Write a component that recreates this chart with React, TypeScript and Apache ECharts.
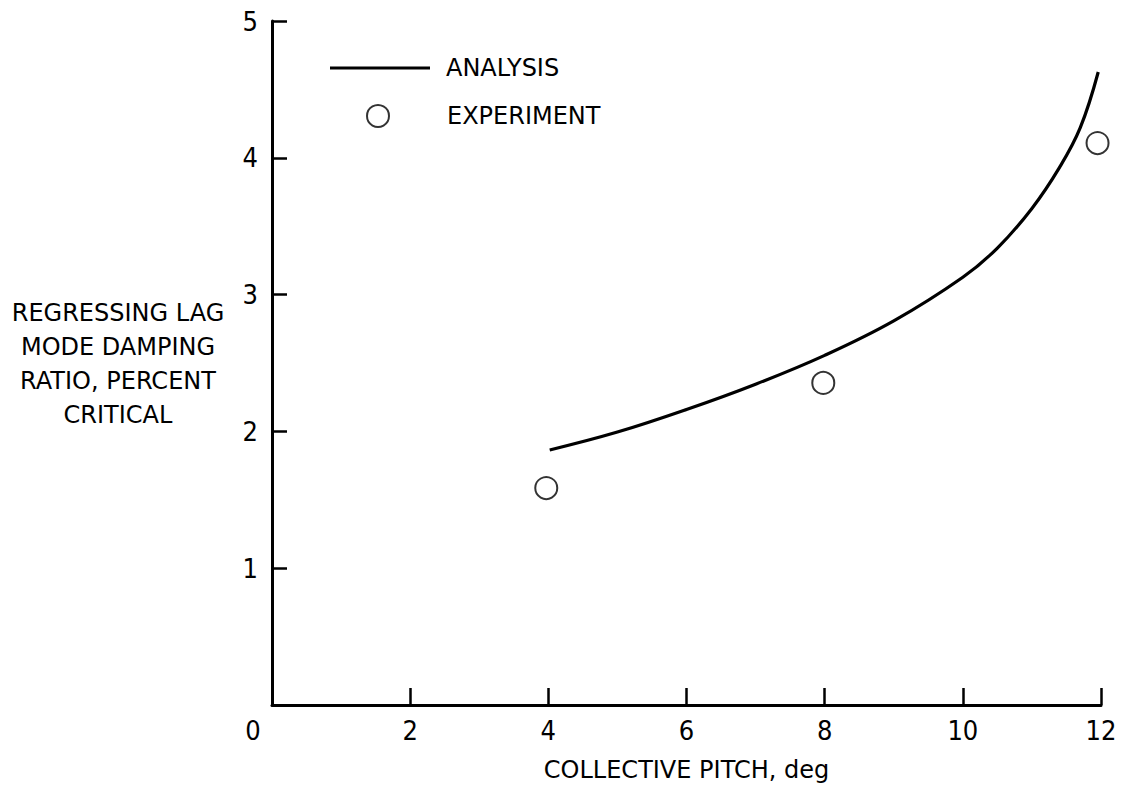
import React, { useEffect, useRef } from "react";
import * as echarts from "echarts";

const xTicks = [0, 2, 4, 6, 8, 10, 12];
const yTicks = [0, 1, 2, 3, 4, 5];

const analysisX = [4.02, 5.0, 6.0, 7.0, 8.0, 9.0, 10.0, 10.5, 11.0, 11.4, 11.7, 11.96];
const analysisY = [1.864, 1.995, 2.16, 2.345, 2.556, 2.808, 3.127, 3.34, 3.63, 3.93, 4.22, 4.627];

const experimentX = [3.97, 7.98, 11.95];
const experimentY = [1.586, 2.354, 4.108];

const yTitleLines = ["REGRESSING LAG", "MODE DAMPING", "RATIO, PERCENT", "CRITICAL"];
const xTitle = "COLLECTIVE PITCH, deg";

const TEXT_FONT = "'DejaVu Sans', sans-serif";
const NUM_FONT = "'Liberation Sans Narrow', 'DejaVu Sans Condensed', sans-serif";
const INK = "#000";

export default function App() {
  const ref = useRef<HTMLDivElement>(null);
  useEffect(() => {
    if (!ref.current) return;
    const chart = echarts.init(ref.current, undefined, { renderer: "svg" });
    const analysis = analysisX.map((x, i) => [x, analysisY[i]]);
    const experiment = experimentX.map((x, i) => [x, experimentY[i]]);
    chart.setOption({
      animation: false,
      backgroundColor: "#ffffff",
      grid: { left: 272, right: 23, top: 21, bottom: 82, containLabel: false },
      xAxis: {
        type: "value",
        min: xTicks[0],
        max: xTicks[xTicks.length - 1],
        interval: 2,
        name: xTitle,
        nameLocation: "middle",
        nameGap: 53,
        nameTextStyle: { fontFamily: TEXT_FONT, fontSize: 24, color: INK },
        axisLine: { show: true, lineStyle: { color: INK, width: 3 } },
        axisTick: { show: true, inside: true, length: 17, lineStyle: { color: INK, width: 2.5 } },
        axisLabel: {
          margin: 12,
          fontFamily: NUM_FONT,
          fontSize: 27,
          color: INK,
          formatter: (v: number) => (v === 0 ? "{z|0}" : String(v)),
          rich: { z: { fontFamily: NUM_FONT, fontSize: 27, color: INK, padding: [0, 38, 0, 0] } },
        },
        splitLine: { show: false },
      },
      yAxis: {
        type: "value",
        min: yTicks[0],
        max: yTicks[yTicks.length - 1],
        interval: 1,
        axisLine: { show: true, lineStyle: { color: INK, width: 3 } },
        axisTick: { show: true, inside: true, length: 15, lineStyle: { color: INK, width: 2.5 } },
        axisLabel: {
          margin: 14,
          fontFamily: NUM_FONT,
          fontSize: 27,
          color: INK,
          formatter: (v: number) => (v === 0 ? "" : String(v)),
        },
        splitLine: { show: false },
      },
      legend: [
        {
          data: [{ name: "ANALYSIS", icon: "rect" }],
          left: 325,
          top: 51,
          itemWidth: 100,
          itemHeight: 3,
          itemStyle: { color: INK },
          textStyle: { fontFamily: TEXT_FONT, fontSize: 24, color: INK, padding: [0, 0, 0, 11] },
          selectedMode: false,
        },
        {
          data: ["EXPERIMENT"],
          left: 361,
          top: 99,
          itemWidth: 22,
          itemHeight: 22,
          textStyle: { fontFamily: TEXT_FONT, fontSize: 24, color: INK, padding: [0, 0, 0, 53] },
          selectedMode: false,
        },
      ],
      graphic: [
        {
          type: "text",
          x: 118,
          y: 296,
          style: {
            text: yTitleLines.join("\n"),
            font: `24px ${TEXT_FONT}`,
            fill: INK,
            textAlign: "center",
            textVerticalAlign: "top",
            lineHeight: 34,
          },
        },
      ],
      series: [
        {
          name: "ANALYSIS",
          type: "line",
          data: analysis,
          smooth: 0.4,
          symbol: "none",
          showSymbol: false,
          lineStyle: { color: INK, width: 3.2 },
          itemStyle: { color: INK },
        },
        {
          name: "EXPERIMENT",
          type: "scatter",
          data: experiment,
          symbol: "emptyCircle",
          symbolSize: 22,
          itemStyle: { color: INK, borderColor: INK, borderWidth: 3 },
        },
      ],
    });
    return () => chart.dispose();
  }, []);
  return (
    <div
      ref={ref}
      style={{ position: "fixed", left: 0, top: 0, width: 1124, height: 787, background: "#fff" }}
    />
  );
}
